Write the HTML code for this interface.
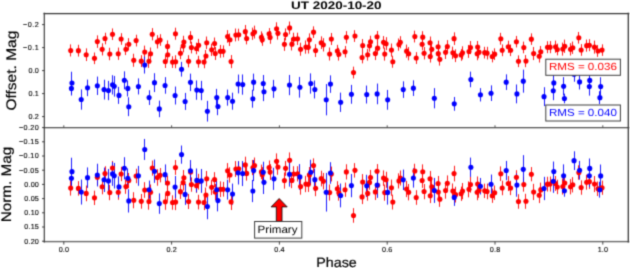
<!DOCTYPE html><html><head><meta charset="utf-8"><style>html,body{margin:0;padding:0;background:#fff;width:630px;height:268px;overflow:hidden}svg{display:block}</style></head><body>
<svg width="630" height="268" viewBox="0 0 630 268" font-family="Liberation Sans, sans-serif" text-rendering="geometricPrecision">
<defs><clipPath id="ct"><rect x="44.4" y="13.6" width="584.0" height="114.0"/></clipPath><clipPath id="cb"><rect x="44.4" y="127.6" width="584.0" height="114.0"/></clipPath><filter id="soft" x="0" y="0" width="630" height="268" filterUnits="userSpaceOnUse" color-interpolation-filters="sRGB"><feConvolveMatrix order="3" kernelMatrix="1 4 1 4 16 4 1 4 1" divisor="36" edgeMode="duplicate"/></filter></defs>
<g filter="url(#soft)">
<rect width="630" height="268" fill="#fff"/>
<g clip-path="url(#ct)"><path d="M70.50 44.39V56.48M78.50 44.77V56.55M86.50 48.37V61.06M94.50 52.50V64.14M97.50 35.36V47.85M102.50 43.27V55.44M105.50 32.74V44.35M109.50 47.78V60.21M112.50 28.43V40.00M118.50 47.57V59.87M121.50 33.18V44.81M125.50 43.39V55.05M128.50 38.17V50.45M133.50 53.74V66.77M136.50 34.73V46.46M141.50 55.18V67.09M144.50 45.62V58.27M148.50 54.65V67.89M150.50 47.49V60.05M152.50 28.10V40.33M157.50 35.18V48.48M160.50 34.19V45.78M165.50 54.93V68.01M167.50 40.36V52.40M167.50 48.83V60.60M172.50 56.24V67.96M175.50 27.69V39.76M175.50 55.24V68.24M180.50 47.36V59.19M183.50 39.74V52.31M183.50 35.77V48.44M188.50 55.18V67.36M190.50 31.15V43.65M191.50 41.74V53.36M196.50 42.65V54.26M198.50 55.80V67.68M198.50 38.86V51.62M204.50 55.96V68.25M205.50 50.00V62.08M206.50 36.53V49.11M211.50 43.66V55.99M214.50 37.52V49.57M215.50 47.05V60.01M220.50 44.95V57.73M223.50 45.36V57.31M227.50 30.15V42.70M229.50 33.53V45.99M231.50 55.05V68.16M235.50 28.52V41.36M238.50 28.70V40.73M245.50 24.98V38.28M246.50 32.66V44.38M252.50 27.63V39.90M254.50 25.65V38.55M261.50 31.39V43.17M262.50 33.44V45.84M269.50 28.05V39.62M270.50 31.05V43.78M276.50 22.31V35.22M277.50 27.09V39.64M284.50 37.75V50.87M285.50 28.40V40.48M289.50 21.52V34.30M291.50 37.88V50.47M293.50 32.71V45.28M297.50 32.69V45.03M300.50 42.70V55.74M305.50 40.46V53.70M308.50 41.16V53.54M309.50 33.35V46.07M313.50 26.34V37.95M315.50 44.18V56.97M321.50 36.34V49.03M323.50 38.14V51.47M329.50 47.49V60.50M331.50 32.98V45.00M337.50 44.83V57.04M338.50 47.85V60.58M345.50 45.95V57.49M346.50 31.11V43.46M353.50 66.65V78.46M354.50 30.18V41.90M362.50 51.75V63.36M362.50 39.07V51.98M367.50 48.84V60.58M369.50 39.82V51.78M370.50 35.72V47.94M375.50 46.95V60.05M377.50 30.96V42.61M377.50 41.99V54.32M383.50 36.07V48.58M384.50 47.52V60.64M386.50 37.17V50.18M391.50 43.53V56.62M392.50 55.74V67.75M398.50 38.45V50.71M400.50 36.16V48.32M406.50 44.59V57.72M408.50 47.09V60.35M414.50 30.67V42.45M416.50 52.14V63.96M422.50 38.35V50.27M422.50 31.18V43.11M424.50 47.03V59.42M430.50 36.53V49.11M430.50 50.57V62.55M431.50 43.60V55.11M438.50 40.61V52.88M438.50 47.54V59.72M439.50 53.08V65.62M445.50 45.74V59.00M447.50 40.13V52.90M452.50 46.64V59.09M454.50 32.34V44.97M455.50 49.33V62.08M461.50 49.19V60.79M462.50 46.29V59.44M468.50 44.96V57.89M470.50 41.00V54.11M477.50 47.29V60.25M477.50 40.99V53.21M478.50 46.05V58.29M484.50 46.80V58.49M487.50 46.80V59.47M492.50 50.75V62.37M494.50 48.32V59.94M500.50 32.83V44.71M502.50 44.40V56.20M508.50 40.68V52.80M510.50 44.50V56.10M516.50 35.95V47.45M518.50 55.36V67.14M523.50 41.62V53.30M525.50 55.03V67.20M531.50 33.37V44.92M533.50 46.98V60.09M539.50 49.92V62.55M540.50 45.98V57.75M547.50 41.23V53.20M550.50 41.06V53.20M555.50 40.59V52.76M557.50 43.61V55.34M562.50 42.58V55.64M564.50 39.61V52.93M570.50 43.16V55.51M572.50 41.56V53.95M578.50 31.96V43.62M581.50 44.12V55.81M586.50 39.57V51.70M589.50 39.20V51.18M594.50 40.62V53.64M597.50 45.07V56.86M602.50 44.34V55.88" stroke="#ff0000" stroke-width="0.9" fill="none"/><path d="M71.50 81.28V95.54M71.50 71.73V94.27M81.50 89.44V109.68M87.50 79.59V96.15M97.50 76.59V94.99M104.50 79.73V99.51M108.50 80.87V100.19M112.50 75.19V94.51M114.50 75.94V96.64M118.50 86.88V103.90M124.50 71.33V89.27M127.50 80.36V96.46M128.50 97.27V116.13M138.50 78.38V94.48M144.50 56.54V73.56M149.50 90.26V104.98M154.50 73.21V92.07M159.50 100.62V117.18M165.50 77.15V93.71M175.50 86.56V104.50M181.50 61.86V76.58M185.50 92.92V109.94M190.50 73.63V91.11M196.50 80.46V99.78M201.50 80.87V100.19M207.50 100.85V121.55M216.50 88.88V106.36M217.50 97.71V115.19M227.50 89.57V105.67M232.50 92.69V109.71M238.50 74.56V93.42M242.50 74.46V94.70M252.50 89.75V107.69M253.50 73.64V90.66M263.50 74.99V92.01M263.50 82.27V101.13M273.50 79.89V97.83M289.50 74.95V95.19M299.50 76.93V97.63M310.50 73.38V93.62M314.50 80.52V98.46M326.50 84.05V115.33M330.50 75.37V92.85M340.50 92.62V111.94M351.50 84.88V103.74M366.50 85.56V103.50M377.50 83.55V104.25M387.50 89.94V109.72M403.50 81.34V97.90M413.50 80.32V95.96M434.50 88.11V108.35M454.50 96.96V110.76M470.50 71.62V87.26M480.50 88.14V101.48M491.50 85.36V101.00M506.50 74.33V89.97M516.50 84.47V103.33M523.50 69.66V92.66M544.50 87.21V106.07M553.50 81.34V100.20M553.50 74.83V90.93M563.50 77.11V95.51M564.50 93.65V103.31M574.50 66.54V81.72M579.50 74.29V89.47M589.50 77.24V95.64M589.50 72.35V88.45M599.50 91.19V104.07M600.50 77.24V95.64" stroke="#0000ff" stroke-width="0.9" fill="none"/><g fill="#ff0000"><circle cx="70.70" cy="50.44" r="2.55"/><circle cx="78.42" cy="50.66" r="2.55"/><circle cx="86.20" cy="54.71" r="2.55"/><circle cx="94.48" cy="58.32" r="2.55"/><circle cx="97.33" cy="41.61" r="2.55"/><circle cx="102.15" cy="49.36" r="2.55"/><circle cx="105.00" cy="38.54" r="2.55"/><circle cx="109.81" cy="53.99" r="2.55"/><circle cx="112.50" cy="34.22" r="2.55"/><circle cx="118.26" cy="53.72" r="2.55"/><circle cx="121.12" cy="38.99" r="2.55"/><circle cx="125.93" cy="49.22" r="2.55"/><circle cx="128.79" cy="44.31" r="2.55"/><circle cx="133.77" cy="60.26" r="2.55"/><circle cx="136.12" cy="40.59" r="2.55"/><circle cx="141.27" cy="61.13" r="2.55"/><circle cx="144.75" cy="51.95" r="2.55"/><circle cx="148.95" cy="61.27" r="2.55"/><circle cx="150.57" cy="53.77" r="2.55"/><circle cx="152.25" cy="34.22" r="2.55"/><circle cx="157.40" cy="41.83" r="2.55"/><circle cx="160.08" cy="39.98" r="2.55"/><circle cx="165.29" cy="61.47" r="2.55"/><circle cx="167.53" cy="46.38" r="2.55"/><circle cx="167.75" cy="54.71" r="2.55"/><circle cx="172.56" cy="62.10" r="2.55"/><circle cx="175.47" cy="33.72" r="2.55"/><circle cx="175.64" cy="61.74" r="2.55"/><circle cx="180.45" cy="53.27" r="2.55"/><circle cx="183.12" cy="46.02" r="2.55"/><circle cx="183.91" cy="42.10" r="2.55"/><circle cx="188.61" cy="61.27" r="2.55"/><circle cx="190.58" cy="37.40" r="2.55"/><circle cx="191.41" cy="47.55" r="2.55"/><circle cx="196.56" cy="48.45" r="2.55"/><circle cx="198.51" cy="61.74" r="2.55"/><circle cx="198.64" cy="45.24" r="2.55"/><circle cx="204.05" cy="62.10" r="2.55"/><circle cx="205.96" cy="56.04" r="2.55"/><circle cx="206.74" cy="42.82" r="2.55"/><circle cx="211.72" cy="49.83" r="2.55"/><circle cx="214.58" cy="43.54" r="2.55"/><circle cx="215.22" cy="53.53" r="2.55"/><circle cx="220.28" cy="51.34" r="2.55"/><circle cx="223.08" cy="51.34" r="2.55"/><circle cx="227.62" cy="36.43" r="2.55"/><circle cx="229.97" cy="39.76" r="2.55"/><circle cx="231.09" cy="61.61" r="2.55"/><circle cx="235.90" cy="34.94" r="2.55"/><circle cx="238.75" cy="34.71" r="2.55"/><circle cx="245.31" cy="31.63" r="2.55"/><circle cx="246.66" cy="38.52" r="2.55"/><circle cx="252.98" cy="33.76" r="2.55"/><circle cx="254.55" cy="32.10" r="2.55"/><circle cx="261.43" cy="37.28" r="2.55"/><circle cx="262.26" cy="39.64" r="2.55"/><circle cx="269.10" cy="33.83" r="2.55"/><circle cx="270.05" cy="37.42" r="2.55"/><circle cx="276.60" cy="28.76" r="2.55"/><circle cx="277.94" cy="33.36" r="2.55"/><circle cx="284.43" cy="44.31" r="2.55"/><circle cx="285.61" cy="34.44" r="2.55"/><circle cx="289.64" cy="27.91" r="2.55"/><circle cx="291.93" cy="44.17" r="2.55"/><circle cx="293.83" cy="38.99" r="2.55"/><circle cx="297.53" cy="38.86" r="2.55"/><circle cx="300.61" cy="49.22" r="2.55"/><circle cx="305.92" cy="47.08" r="2.55"/><circle cx="308.27" cy="47.35" r="2.55"/><circle cx="309.39" cy="39.71" r="2.55"/><circle cx="313.55" cy="32.15" r="2.55"/><circle cx="315.62" cy="50.57" r="2.55"/><circle cx="321.22" cy="42.69" r="2.55"/><circle cx="323.34" cy="44.81" r="2.55"/><circle cx="329.67" cy="53.99" r="2.55"/><circle cx="331.35" cy="38.99" r="2.55"/><circle cx="337.35" cy="50.93" r="2.55"/><circle cx="338.86" cy="54.22" r="2.55"/><circle cx="345.02" cy="51.72" r="2.55"/><circle cx="346.36" cy="37.28" r="2.55"/><circle cx="353.52" cy="72.56" r="2.55"/><circle cx="354.98" cy="36.04" r="2.55"/><circle cx="362.08" cy="57.55" r="2.55"/><circle cx="362.70" cy="45.53" r="2.55"/><circle cx="367.68" cy="54.71" r="2.55"/><circle cx="369.53" cy="45.80" r="2.55"/><circle cx="370.54" cy="41.83" r="2.55"/><circle cx="375.35" cy="53.50" r="2.55"/><circle cx="377.03" cy="36.79" r="2.55"/><circle cx="377.65" cy="48.15" r="2.55"/><circle cx="383.57" cy="42.33" r="2.55"/><circle cx="384.75" cy="54.08" r="2.55"/><circle cx="386.09" cy="43.68" r="2.55"/><circle cx="391.47" cy="50.08" r="2.55"/><circle cx="392.81" cy="61.74" r="2.55"/><circle cx="398.97" cy="44.58" r="2.55"/><circle cx="400.31" cy="42.24" r="2.55"/><circle cx="406.63" cy="51.16" r="2.55"/><circle cx="408.70" cy="53.72" r="2.55"/><circle cx="414.86" cy="36.56" r="2.55"/><circle cx="416.20" cy="58.05" r="2.55"/><circle cx="422.13" cy="44.31" r="2.55"/><circle cx="422.75" cy="37.15" r="2.55"/><circle cx="424.09" cy="53.23" r="2.55"/><circle cx="430.03" cy="42.82" r="2.55"/><circle cx="430.25" cy="56.56" r="2.55"/><circle cx="431.77" cy="49.36" r="2.55"/><circle cx="438.10" cy="46.74" r="2.55"/><circle cx="438.27" cy="53.63" r="2.55"/><circle cx="439.83" cy="59.35" r="2.55"/><circle cx="445.60" cy="52.37" r="2.55"/><circle cx="447.33" cy="46.52" r="2.55"/><circle cx="452.88" cy="52.87" r="2.55"/><circle cx="454.06" cy="38.66" r="2.55"/><circle cx="455.57" cy="55.71" r="2.55"/><circle cx="461.11" cy="54.99" r="2.55"/><circle cx="462.51" cy="52.87" r="2.55"/><circle cx="469.00" cy="51.43" r="2.55"/><circle cx="470.51" cy="47.56" r="2.55"/><circle cx="477.17" cy="53.77" r="2.55"/><circle cx="477.67" cy="47.10" r="2.55"/><circle cx="478.96" cy="52.17" r="2.55"/><circle cx="484.72" cy="52.64" r="2.55"/><circle cx="487.07" cy="53.14" r="2.55"/><circle cx="492.22" cy="56.56" r="2.55"/><circle cx="494.69" cy="54.13" r="2.55"/><circle cx="500.84" cy="38.77" r="2.55"/><circle cx="502.18" cy="50.30" r="2.55"/><circle cx="508.28" cy="46.74" r="2.55"/><circle cx="510.64" cy="50.30" r="2.55"/><circle cx="516.40" cy="41.70" r="2.55"/><circle cx="518.47" cy="61.25" r="2.55"/><circle cx="523.84" cy="47.46" r="2.55"/><circle cx="525.97" cy="61.11" r="2.55"/><circle cx="531.37" cy="39.14" r="2.55"/><circle cx="533.66" cy="53.53" r="2.55"/><circle cx="539.21" cy="56.24" r="2.55"/><circle cx="540.78" cy="51.87" r="2.55"/><circle cx="547.51" cy="47.21" r="2.55"/><circle cx="550.03" cy="47.13" r="2.55"/><circle cx="555.58" cy="46.68" r="2.55"/><circle cx="557.26" cy="49.47" r="2.55"/><circle cx="562.86" cy="49.11" r="2.55"/><circle cx="564.77" cy="46.27" r="2.55"/><circle cx="570.54" cy="49.34" r="2.55"/><circle cx="572.84" cy="47.76" r="2.55"/><circle cx="578.83" cy="37.79" r="2.55"/><circle cx="581.13" cy="49.97" r="2.55"/><circle cx="586.68" cy="45.64" r="2.55"/><circle cx="589.37" cy="45.19" r="2.55"/><circle cx="594.52" cy="47.13" r="2.55"/><circle cx="598.00" cy="50.96" r="2.55"/><circle cx="602.03" cy="50.11" r="2.55"/></g><g fill="#0000ff"><circle cx="71.42" cy="88.41" r="2.55"/><circle cx="71.98" cy="83.00" r="2.55"/><circle cx="81.22" cy="99.56" r="2.55"/><circle cx="87.54" cy="87.87" r="2.55"/><circle cx="97.33" cy="85.79" r="2.55"/><circle cx="104.05" cy="89.62" r="2.55"/><circle cx="108.47" cy="90.53" r="2.55"/><circle cx="112.50" cy="84.85" r="2.55"/><circle cx="114.24" cy="86.29" r="2.55"/><circle cx="118.99" cy="95.39" r="2.55"/><circle cx="124.36" cy="80.30" r="2.55"/><circle cx="127.83" cy="88.41" r="2.55"/><circle cx="128.79" cy="106.70" r="2.55"/><circle cx="138.41" cy="86.43" r="2.55"/><circle cx="144.75" cy="65.05" r="2.55"/><circle cx="149.11" cy="97.62" r="2.55"/><circle cx="154.49" cy="82.64" r="2.55"/><circle cx="159.30" cy="108.90" r="2.55"/><circle cx="165.06" cy="85.43" r="2.55"/><circle cx="175.08" cy="95.53" r="2.55"/><circle cx="181.57" cy="69.22" r="2.55"/><circle cx="185.12" cy="101.43" r="2.55"/><circle cx="190.49" cy="82.37" r="2.55"/><circle cx="196.81" cy="90.12" r="2.55"/><circle cx="201.23" cy="90.53" r="2.55"/><circle cx="207.39" cy="111.20" r="2.55"/><circle cx="216.79" cy="97.62" r="2.55"/><circle cx="217.97" cy="106.45" r="2.55"/><circle cx="227.70" cy="97.62" r="2.55"/><circle cx="232.52" cy="101.20" r="2.55"/><circle cx="238.11" cy="83.99" r="2.55"/><circle cx="242.72" cy="84.58" r="2.55"/><circle cx="252.90" cy="98.72" r="2.55"/><circle cx="253.63" cy="82.15" r="2.55"/><circle cx="263.25" cy="83.50" r="2.55"/><circle cx="263.98" cy="91.70" r="2.55"/><circle cx="274.00" cy="88.86" r="2.55"/><circle cx="289.50" cy="85.07" r="2.55"/><circle cx="299.91" cy="87.28" r="2.55"/><circle cx="310.82" cy="83.50" r="2.55"/><circle cx="314.85" cy="89.49" r="2.55"/><circle cx="326.23" cy="99.69" r="2.55"/><circle cx="330.48" cy="84.11" r="2.55"/><circle cx="340.68" cy="102.28" r="2.55"/><circle cx="351.43" cy="94.31" r="2.55"/><circle cx="366.76" cy="94.53" r="2.55"/><circle cx="377.12" cy="93.90" r="2.55"/><circle cx="387.69" cy="99.83" r="2.55"/><circle cx="403.25" cy="89.62" r="2.55"/><circle cx="413.38" cy="88.14" r="2.55"/><circle cx="434.32" cy="98.23" r="2.55"/><circle cx="454.25" cy="103.86" r="2.55"/><circle cx="470.88" cy="79.44" r="2.55"/><circle cx="480.45" cy="94.81" r="2.55"/><circle cx="491.03" cy="93.18" r="2.55"/><circle cx="506.20" cy="82.15" r="2.55"/><circle cx="516.94" cy="93.90" r="2.55"/><circle cx="523.27" cy="81.16" r="2.55"/><circle cx="544.02" cy="96.64" r="2.55"/><circle cx="553.26" cy="90.77" r="2.55"/><circle cx="553.82" cy="82.88" r="2.55"/><circle cx="563.63" cy="86.31" r="2.55"/><circle cx="564.41" cy="98.48" r="2.55"/><circle cx="574.03" cy="74.13" r="2.55"/><circle cx="579.60" cy="81.88" r="2.55"/><circle cx="589.35" cy="86.44" r="2.55"/><circle cx="589.75" cy="80.40" r="2.55"/><circle cx="599.90" cy="97.63" r="2.55"/><circle cx="600.69" cy="86.44" r="2.55"/></g></g>
<g clip-path="url(#cb)"><path d="M70.50 180.65V195.59M78.50 181.13V195.67M86.50 185.56V201.24M94.50 190.67V205.04M97.50 169.51V184.93M102.50 179.27V194.30M105.50 166.27V180.60M109.50 184.84V200.19M112.50 160.95V175.24M118.50 184.59V199.77M121.50 166.81V181.17M125.50 179.42V193.82M128.50 172.97V188.14M133.50 192.21V208.29M136.50 168.73V183.21M141.50 193.98V208.69M144.50 182.17V197.80M148.50 193.32V209.68M150.50 184.48V199.99M152.50 160.55V175.65M157.50 169.29V185.71M160.50 168.06V182.37M165.50 193.67V209.82M167.50 175.69V190.54M167.50 186.14V200.67M172.50 195.29V209.76M175.50 160.03V174.93M175.50 194.06V210.11M180.50 184.32V198.93M183.50 174.91V190.43M183.50 170.01V185.66M188.50 193.98V209.02M190.50 164.30V179.75M191.50 177.39V191.73M196.50 178.50V192.84M198.50 194.75V209.42M198.50 173.83V189.58M204.50 194.94V210.11M205.50 187.59V202.50M206.50 170.96V186.49M211.50 179.76V194.98M214.50 172.17V187.05M215.50 183.94V199.94M220.50 181.34V197.13M223.50 181.86V196.61M227.50 163.07V178.57M229.50 167.24V182.64M231.50 193.82V210.01M235.50 161.06V176.91M238.50 161.28V176.14M245.50 156.68V173.11M246.50 166.17V180.64M252.50 159.96V175.11M254.50 157.52V173.44M261.50 164.61V179.15M262.50 167.13V182.45M269.50 160.48V174.77M270.50 164.19V179.90M276.50 153.39V169.33M277.50 159.29V174.79M284.50 172.46V188.65M285.50 160.92V175.83M289.50 152.41V168.19M291.50 172.61V188.16M293.50 166.23V181.75M297.50 166.21V181.44M300.50 178.57V194.67M305.50 175.80V192.15M308.50 176.67V191.95M309.50 167.03V182.73M313.50 158.37V172.71M315.50 180.39V196.19M321.50 170.72V186.39M323.50 172.94V189.40M329.50 184.48V200.55M331.50 166.57V181.41M337.50 181.19V196.27M338.50 184.93V200.65M345.50 182.58V196.83M346.50 164.25V179.50M353.50 208.14V222.73M354.50 163.11V177.58M362.50 189.74V204.08M362.50 174.09V190.03M367.50 186.16V200.65M369.50 175.01V189.77M370.50 169.95V185.04M375.50 183.81V199.99M377.50 164.07V178.46M377.50 177.69V192.91M383.50 170.38V185.83M384.50 184.52V200.73M386.50 171.75V187.81M391.50 179.59V195.76M392.50 194.67V209.50M398.50 173.32V188.46M400.50 170.49V185.51M406.50 180.90V197.11M408.50 183.99V200.37M414.50 163.72V178.26M416.50 190.22V204.82M422.50 173.19V187.92M422.50 164.35V179.08M424.50 183.92V199.22M430.50 170.95V186.49M430.50 188.29V203.08M431.50 179.68V193.89M438.50 175.98V191.13M438.50 184.55V199.59M439.50 191.39V206.87M445.50 182.33V198.69M447.50 175.40V191.17M452.50 183.44V198.81M454.50 165.77V181.38M455.50 186.76V202.50M461.50 186.58V200.90M462.50 183.00V199.24M468.50 181.36V197.33M470.50 176.47V192.66M477.50 184.23V200.24M477.50 176.46V191.55M478.50 182.71V197.82M484.50 183.63V198.06M487.50 183.64V199.28M492.50 188.51V202.85M494.50 185.51V199.86M500.50 166.38V181.05M502.50 180.67V195.24M508.50 176.07V191.05M510.50 180.79V195.11M516.50 170.23V184.43M518.50 194.20V208.74M523.50 177.23V191.66M525.50 193.79V208.82M531.50 167.05V181.30M533.50 183.85V200.04M539.50 187.49V203.08M540.50 182.62V197.16M547.50 176.76V191.53M550.50 176.54V191.53M555.50 175.97V190.99M557.50 179.69V194.17M562.50 178.42V194.55M564.50 174.75V191.20M570.50 179.13V194.39M572.50 177.17V192.46M578.50 165.31V179.70M581.50 180.33V194.76M586.50 174.71V189.69M589.50 174.24V189.04M594.50 176.00V192.08M597.50 181.49V196.06M602.50 180.59V194.84" stroke="#ff0000" stroke-width="0.9" fill="none"/><path d="M71.50 169.50V187.11M71.50 157.71V185.54M81.50 179.57V204.56M87.50 167.41V187.86M97.50 163.72V186.44M104.50 167.59V192.02M108.50 168.99V192.85M112.50 161.98V185.84M114.50 162.91V188.47M118.50 176.42V197.43M124.50 157.22V179.37M127.50 168.36V188.24M128.50 189.24V212.53M138.50 165.91V185.79M144.50 138.95V159.96M149.50 180.59V198.77M154.50 159.54V182.83M159.50 193.39V213.83M165.50 164.41V184.85M175.50 176.02V198.17M181.50 145.52V163.69M185.50 183.87V204.89M190.50 160.06V181.64M196.50 168.49V192.34M201.50 168.99V192.85M207.50 193.66V219.22M216.50 178.89V200.47M217.50 189.79V211.37M227.50 179.74V199.62M232.50 183.59V204.61M238.50 161.21V184.50M242.50 161.08V186.07M252.50 179.97V202.12M253.50 160.06V181.08M263.50 161.73V182.75M263.50 170.72V194.01M273.50 167.78V189.93M289.50 161.69V186.68M299.50 164.13V189.69M310.50 159.75V184.74M314.50 168.56V190.71M326.50 172.92V211.55M330.50 162.20V183.78M340.50 183.51V207.36M351.50 173.95V197.23M366.50 174.79V196.94M377.50 172.31V197.87M387.50 180.19V204.62M403.50 169.58V190.03M413.50 168.31V187.62M434.50 177.93V202.92M454.50 188.86V205.90M470.50 157.58V176.89M480.50 177.97V194.44M491.50 174.54V193.85M506.50 160.92V180.23M516.50 173.44V196.73M523.50 155.15V183.55M544.50 176.82V200.11M553.50 169.58V192.87M553.50 161.53V181.41M563.50 164.35V187.07M564.50 184.78V196.71M574.50 151.30V170.04M579.50 160.88V179.62M589.50 164.51V187.23M589.50 158.47V178.35M599.50 181.74V197.64M600.50 164.52V187.24" stroke="#0000ff" stroke-width="0.9" fill="none"/><g fill="#ff0000"><circle cx="70.70" cy="188.12" r="2.55"/><circle cx="78.42" cy="188.40" r="2.55"/><circle cx="86.20" cy="193.40" r="2.55"/><circle cx="94.48" cy="197.86" r="2.55"/><circle cx="97.33" cy="177.22" r="2.55"/><circle cx="102.15" cy="186.79" r="2.55"/><circle cx="105.00" cy="173.44" r="2.55"/><circle cx="109.81" cy="192.51" r="2.55"/><circle cx="112.50" cy="168.10" r="2.55"/><circle cx="118.26" cy="192.18" r="2.55"/><circle cx="121.12" cy="173.99" r="2.55"/><circle cx="125.93" cy="186.62" r="2.55"/><circle cx="128.79" cy="180.56" r="2.55"/><circle cx="133.77" cy="200.25" r="2.55"/><circle cx="136.12" cy="175.97" r="2.55"/><circle cx="141.27" cy="201.33" r="2.55"/><circle cx="144.75" cy="189.99" r="2.55"/><circle cx="148.95" cy="201.50" r="2.55"/><circle cx="150.57" cy="192.24" r="2.55"/><circle cx="152.25" cy="168.10" r="2.55"/><circle cx="157.40" cy="177.50" r="2.55"/><circle cx="160.08" cy="175.22" r="2.55"/><circle cx="165.29" cy="201.75" r="2.55"/><circle cx="167.53" cy="183.11" r="2.55"/><circle cx="167.75" cy="193.40" r="2.55"/><circle cx="172.56" cy="202.53" r="2.55"/><circle cx="175.47" cy="167.48" r="2.55"/><circle cx="175.64" cy="202.08" r="2.55"/><circle cx="180.45" cy="191.63" r="2.55"/><circle cx="183.12" cy="182.67" r="2.55"/><circle cx="183.91" cy="177.83" r="2.55"/><circle cx="188.61" cy="201.50" r="2.55"/><circle cx="190.58" cy="172.02" r="2.55"/><circle cx="191.41" cy="184.56" r="2.55"/><circle cx="196.56" cy="185.67" r="2.55"/><circle cx="198.51" cy="202.08" r="2.55"/><circle cx="198.64" cy="181.71" r="2.55"/><circle cx="204.05" cy="202.53" r="2.55"/><circle cx="205.96" cy="195.04" r="2.55"/><circle cx="206.74" cy="178.72" r="2.55"/><circle cx="211.72" cy="187.37" r="2.55"/><circle cx="214.58" cy="179.61" r="2.55"/><circle cx="215.22" cy="191.94" r="2.55"/><circle cx="220.28" cy="189.24" r="2.55"/><circle cx="223.08" cy="189.24" r="2.55"/><circle cx="227.62" cy="170.82" r="2.55"/><circle cx="229.97" cy="174.94" r="2.55"/><circle cx="231.09" cy="201.91" r="2.55"/><circle cx="235.90" cy="168.98" r="2.55"/><circle cx="238.75" cy="168.71" r="2.55"/><circle cx="245.31" cy="164.90" r="2.55"/><circle cx="246.66" cy="173.41" r="2.55"/><circle cx="252.98" cy="167.53" r="2.55"/><circle cx="254.55" cy="165.48" r="2.55"/><circle cx="261.43" cy="171.88" r="2.55"/><circle cx="262.26" cy="174.79" r="2.55"/><circle cx="269.10" cy="167.62" r="2.55"/><circle cx="270.05" cy="172.05" r="2.55"/><circle cx="276.60" cy="161.36" r="2.55"/><circle cx="277.94" cy="167.04" r="2.55"/><circle cx="284.43" cy="180.56" r="2.55"/><circle cx="285.61" cy="168.37" r="2.55"/><circle cx="289.64" cy="160.30" r="2.55"/><circle cx="291.93" cy="180.39" r="2.55"/><circle cx="293.83" cy="173.99" r="2.55"/><circle cx="297.53" cy="173.82" r="2.55"/><circle cx="300.61" cy="186.62" r="2.55"/><circle cx="305.92" cy="183.97" r="2.55"/><circle cx="308.27" cy="184.31" r="2.55"/><circle cx="309.39" cy="174.88" r="2.55"/><circle cx="313.55" cy="165.54" r="2.55"/><circle cx="315.62" cy="188.29" r="2.55"/><circle cx="321.22" cy="178.55" r="2.55"/><circle cx="323.34" cy="181.17" r="2.55"/><circle cx="329.67" cy="192.51" r="2.55"/><circle cx="331.35" cy="173.99" r="2.55"/><circle cx="337.35" cy="188.73" r="2.55"/><circle cx="338.86" cy="192.79" r="2.55"/><circle cx="345.02" cy="189.71" r="2.55"/><circle cx="346.36" cy="171.88" r="2.55"/><circle cx="353.52" cy="215.43" r="2.55"/><circle cx="354.98" cy="170.35" r="2.55"/><circle cx="362.08" cy="196.91" r="2.55"/><circle cx="362.70" cy="182.06" r="2.55"/><circle cx="367.68" cy="193.40" r="2.55"/><circle cx="369.53" cy="182.39" r="2.55"/><circle cx="370.54" cy="177.50" r="2.55"/><circle cx="375.35" cy="191.90" r="2.55"/><circle cx="377.03" cy="171.27" r="2.55"/><circle cx="377.65" cy="185.30" r="2.55"/><circle cx="383.57" cy="178.11" r="2.55"/><circle cx="384.75" cy="192.62" r="2.55"/><circle cx="386.09" cy="179.78" r="2.55"/><circle cx="391.47" cy="187.68" r="2.55"/><circle cx="392.81" cy="202.08" r="2.55"/><circle cx="398.97" cy="180.89" r="2.55"/><circle cx="400.31" cy="178.00" r="2.55"/><circle cx="406.63" cy="189.01" r="2.55"/><circle cx="408.70" cy="192.18" r="2.55"/><circle cx="414.86" cy="170.99" r="2.55"/><circle cx="416.20" cy="197.52" r="2.55"/><circle cx="422.13" cy="180.56" r="2.55"/><circle cx="422.75" cy="171.71" r="2.55"/><circle cx="424.09" cy="191.57" r="2.55"/><circle cx="430.03" cy="178.72" r="2.55"/><circle cx="430.25" cy="195.68" r="2.55"/><circle cx="431.77" cy="186.79" r="2.55"/><circle cx="438.10" cy="183.56" r="2.55"/><circle cx="438.27" cy="192.07" r="2.55"/><circle cx="439.83" cy="199.13" r="2.55"/><circle cx="445.60" cy="190.51" r="2.55"/><circle cx="447.33" cy="183.28" r="2.55"/><circle cx="452.88" cy="191.12" r="2.55"/><circle cx="454.06" cy="173.58" r="2.55"/><circle cx="455.57" cy="194.63" r="2.55"/><circle cx="461.11" cy="193.74" r="2.55"/><circle cx="462.51" cy="191.12" r="2.55"/><circle cx="469.00" cy="189.34" r="2.55"/><circle cx="470.51" cy="184.57" r="2.55"/><circle cx="477.17" cy="192.24" r="2.55"/><circle cx="477.67" cy="184.00" r="2.55"/><circle cx="478.96" cy="190.26" r="2.55"/><circle cx="484.72" cy="190.85" r="2.55"/><circle cx="487.07" cy="191.46" r="2.55"/><circle cx="492.22" cy="195.68" r="2.55"/><circle cx="494.69" cy="192.68" r="2.55"/><circle cx="500.84" cy="173.71" r="2.55"/><circle cx="502.18" cy="187.95" r="2.55"/><circle cx="508.28" cy="183.56" r="2.55"/><circle cx="510.64" cy="187.95" r="2.55"/><circle cx="516.40" cy="177.33" r="2.55"/><circle cx="518.47" cy="201.47" r="2.55"/><circle cx="523.84" cy="184.45" r="2.55"/><circle cx="525.97" cy="201.30" r="2.55"/><circle cx="531.37" cy="174.18" r="2.55"/><circle cx="533.66" cy="191.94" r="2.55"/><circle cx="539.21" cy="195.29" r="2.55"/><circle cx="540.78" cy="189.89" r="2.55"/><circle cx="547.51" cy="184.14" r="2.55"/><circle cx="550.03" cy="184.03" r="2.55"/><circle cx="555.58" cy="183.48" r="2.55"/><circle cx="557.26" cy="186.93" r="2.55"/><circle cx="562.86" cy="186.49" r="2.55"/><circle cx="564.77" cy="182.98" r="2.55"/><circle cx="570.54" cy="186.76" r="2.55"/><circle cx="572.84" cy="184.82" r="2.55"/><circle cx="578.83" cy="172.50" r="2.55"/><circle cx="581.13" cy="187.54" r="2.55"/><circle cx="586.68" cy="182.20" r="2.55"/><circle cx="589.37" cy="181.64" r="2.55"/><circle cx="594.52" cy="184.04" r="2.55"/><circle cx="598.00" cy="188.77" r="2.55"/><circle cx="602.03" cy="187.72" r="2.55"/></g><g fill="#0000ff"><circle cx="71.42" cy="178.30" r="2.55"/><circle cx="71.98" cy="171.63" r="2.55"/><circle cx="81.22" cy="192.07" r="2.55"/><circle cx="87.54" cy="177.64" r="2.55"/><circle cx="97.33" cy="175.08" r="2.55"/><circle cx="104.05" cy="179.80" r="2.55"/><circle cx="108.47" cy="180.92" r="2.55"/><circle cx="112.50" cy="173.91" r="2.55"/><circle cx="114.24" cy="175.69" r="2.55"/><circle cx="118.99" cy="186.92" r="2.55"/><circle cx="124.36" cy="168.29" r="2.55"/><circle cx="127.83" cy="178.30" r="2.55"/><circle cx="128.79" cy="200.89" r="2.55"/><circle cx="138.41" cy="175.85" r="2.55"/><circle cx="144.75" cy="149.46" r="2.55"/><circle cx="149.11" cy="189.68" r="2.55"/><circle cx="154.49" cy="171.18" r="2.55"/><circle cx="159.30" cy="203.61" r="2.55"/><circle cx="165.06" cy="174.63" r="2.55"/><circle cx="175.08" cy="187.09" r="2.55"/><circle cx="181.57" cy="154.60" r="2.55"/><circle cx="185.12" cy="194.38" r="2.55"/><circle cx="190.49" cy="170.85" r="2.55"/><circle cx="196.81" cy="180.42" r="2.55"/><circle cx="201.23" cy="180.92" r="2.55"/><circle cx="207.39" cy="206.44" r="2.55"/><circle cx="216.79" cy="189.68" r="2.55"/><circle cx="217.97" cy="200.58" r="2.55"/><circle cx="227.70" cy="189.68" r="2.55"/><circle cx="232.52" cy="194.10" r="2.55"/><circle cx="238.11" cy="172.85" r="2.55"/><circle cx="242.72" cy="173.57" r="2.55"/><circle cx="252.90" cy="191.04" r="2.55"/><circle cx="253.63" cy="170.57" r="2.55"/><circle cx="263.25" cy="172.24" r="2.55"/><circle cx="263.98" cy="182.36" r="2.55"/><circle cx="274.00" cy="178.86" r="2.55"/><circle cx="289.50" cy="174.19" r="2.55"/><circle cx="299.91" cy="176.91" r="2.55"/><circle cx="310.82" cy="172.24" r="2.55"/><circle cx="314.85" cy="179.64" r="2.55"/><circle cx="326.23" cy="192.24" r="2.55"/><circle cx="330.48" cy="172.99" r="2.55"/><circle cx="340.68" cy="195.44" r="2.55"/><circle cx="351.43" cy="185.59" r="2.55"/><circle cx="366.76" cy="185.87" r="2.55"/><circle cx="377.12" cy="185.09" r="2.55"/><circle cx="387.69" cy="192.40" r="2.55"/><circle cx="403.25" cy="179.80" r="2.55"/><circle cx="413.38" cy="177.97" r="2.55"/><circle cx="434.32" cy="190.43" r="2.55"/><circle cx="454.25" cy="197.38" r="2.55"/><circle cx="470.88" cy="167.23" r="2.55"/><circle cx="480.45" cy="186.20" r="2.55"/><circle cx="491.03" cy="184.20" r="2.55"/><circle cx="506.20" cy="170.57" r="2.55"/><circle cx="516.94" cy="185.09" r="2.55"/><circle cx="523.27" cy="169.35" r="2.55"/><circle cx="544.02" cy="188.46" r="2.55"/><circle cx="553.26" cy="181.22" r="2.55"/><circle cx="553.82" cy="171.47" r="2.55"/><circle cx="563.63" cy="175.71" r="2.55"/><circle cx="564.41" cy="190.75" r="2.55"/><circle cx="574.03" cy="160.67" r="2.55"/><circle cx="579.60" cy="170.25" r="2.55"/><circle cx="589.35" cy="175.87" r="2.55"/><circle cx="589.75" cy="168.41" r="2.55"/><circle cx="599.90" cy="189.69" r="2.55"/><circle cx="600.69" cy="175.88" r="2.55"/></g></g>
<rect x="43.5" y="12.95" width="585.80" height="1.3" fill="#3a3a3a"/>
<rect x="43.5" y="127.10" width="585.80" height="1.2" fill="#4a4a4a"/>
<rect x="43.5" y="240.90" width="585.80" height="1.4" fill="#6a6a6a"/>
<rect x="43.70" y="12.7" width="1.2" height="229.80" fill="#404040"/>
<rect x="627.65" y="12.7" width="1.3" height="229.80" fill="#3a3a3a"/>
<text x="38.80" y="27.00" font-size="7.2" text-anchor="end" textLength="15.78" lengthAdjust="spacing" fill="#000" stroke="#000" stroke-width="0.12">−0.2</text>
<text x="38.80" y="50.00" font-size="7.2" text-anchor="end" textLength="15.78" lengthAdjust="spacing" fill="#000" stroke="#000" stroke-width="0.12">−0.1</text>
<text x="38.80" y="73.00" font-size="7.2" text-anchor="end" textLength="10.34" lengthAdjust="spacing" fill="#000" stroke="#000" stroke-width="0.12">0.0</text>
<text x="38.80" y="96.00" font-size="7.2" text-anchor="end" textLength="10.34" lengthAdjust="spacing" fill="#000" stroke="#000" stroke-width="0.12">0.1</text>
<text x="38.80" y="119.00" font-size="7.2" text-anchor="end" textLength="10.34" lengthAdjust="spacing" fill="#000" stroke="#000" stroke-width="0.12">0.2</text>
<text x="38.80" y="130.00" font-size="7.2" text-anchor="end" textLength="19.92" lengthAdjust="spacing" fill="#000" stroke="#000" stroke-width="0.12">−0.20</text>
<text x="38.80" y="144.20" font-size="7.2" text-anchor="end" textLength="19.92" lengthAdjust="spacing" fill="#000" stroke="#000" stroke-width="0.12">−0.15</text>
<text x="38.80" y="158.40" font-size="7.2" text-anchor="end" textLength="19.92" lengthAdjust="spacing" fill="#000" stroke="#000" stroke-width="0.12">−0.10</text>
<text x="38.80" y="172.60" font-size="7.2" text-anchor="end" textLength="19.92" lengthAdjust="spacing" fill="#000" stroke="#000" stroke-width="0.12">−0.05</text>
<text x="38.80" y="186.80" font-size="7.2" text-anchor="end" textLength="14.47" lengthAdjust="spacing" fill="#000" stroke="#000" stroke-width="0.12">0.00</text>
<text x="38.80" y="201.00" font-size="7.2" text-anchor="end" textLength="14.47" lengthAdjust="spacing" fill="#000" stroke="#000" stroke-width="0.12">0.05</text>
<text x="38.80" y="215.20" font-size="7.2" text-anchor="end" textLength="14.47" lengthAdjust="spacing" fill="#000" stroke="#000" stroke-width="0.12">0.10</text>
<text x="38.80" y="229.40" font-size="7.2" text-anchor="end" textLength="14.47" lengthAdjust="spacing" fill="#000" stroke="#000" stroke-width="0.12">0.15</text>
<text x="38.80" y="243.60" font-size="7.2" text-anchor="end" textLength="14.47" lengthAdjust="spacing" fill="#000" stroke="#000" stroke-width="0.12">0.20</text>
<text x="63.80" y="251.6" font-size="7.2" text-anchor="middle" textLength="10.34" lengthAdjust="spacing" fill="#000" stroke="#000" stroke-width="0.12">0.0</text>
<text x="171.60" y="251.6" font-size="7.2" text-anchor="middle" textLength="10.34" lengthAdjust="spacing" fill="#000" stroke="#000" stroke-width="0.12">0.2</text>
<text x="279.40" y="251.6" font-size="7.2" text-anchor="middle" textLength="10.34" lengthAdjust="spacing" fill="#000" stroke="#000" stroke-width="0.12">0.4</text>
<text x="387.20" y="251.6" font-size="7.2" text-anchor="middle" textLength="10.34" lengthAdjust="spacing" fill="#000" stroke="#000" stroke-width="0.12">0.6</text>
<text x="495.00" y="251.6" font-size="7.2" text-anchor="middle" textLength="10.34" lengthAdjust="spacing" fill="#000" stroke="#000" stroke-width="0.12">0.8</text>
<text x="602.80" y="251.6" font-size="7.2" text-anchor="middle" textLength="10.34" lengthAdjust="spacing" fill="#000" stroke="#000" stroke-width="0.12">1.0</text>
<g stroke="#333" stroke-width="0.9"><line x1="42.0" y1="24.60" x2="44.4" y2="24.60"/><line x1="42.0" y1="47.60" x2="44.4" y2="47.60"/><line x1="42.0" y1="70.60" x2="44.4" y2="70.60"/><line x1="42.0" y1="93.60" x2="44.4" y2="93.60"/><line x1="42.0" y1="116.60" x2="44.4" y2="116.60"/><line x1="42.0" y1="127.60" x2="44.4" y2="127.60"/><line x1="42.0" y1="141.80" x2="44.4" y2="141.80"/><line x1="42.0" y1="156.00" x2="44.4" y2="156.00"/><line x1="42.0" y1="170.20" x2="44.4" y2="170.20"/><line x1="42.0" y1="184.40" x2="44.4" y2="184.40"/><line x1="42.0" y1="198.60" x2="44.4" y2="198.60"/><line x1="42.0" y1="212.80" x2="44.4" y2="212.80"/><line x1="42.0" y1="227.00" x2="44.4" y2="227.00"/><line x1="42.0" y1="241.20" x2="44.4" y2="241.20"/><line x1="63.80" y1="241.6" x2="63.80" y2="244.6"/><line x1="63.80" y1="125.3" x2="63.80" y2="127.6" stroke="#444"/><line x1="171.60" y1="241.6" x2="171.60" y2="244.6"/><line x1="171.60" y1="125.3" x2="171.60" y2="127.6" stroke="#444"/><line x1="279.40" y1="241.6" x2="279.40" y2="244.6"/><line x1="279.40" y1="125.3" x2="279.40" y2="127.6" stroke="#444"/><line x1="387.20" y1="241.6" x2="387.20" y2="244.6"/><line x1="387.20" y1="125.3" x2="387.20" y2="127.6" stroke="#444"/><line x1="495.00" y1="241.6" x2="495.00" y2="244.6"/><line x1="495.00" y1="125.3" x2="495.00" y2="127.6" stroke="#444"/><line x1="602.80" y1="241.6" x2="602.80" y2="244.6"/><line x1="602.80" y1="125.3" x2="602.80" y2="127.6" stroke="#444"/></g>
<text x="336.3" y="8.6" font-size="11" font-weight="bold" text-anchor="middle" textLength="90.6" lengthAdjust="spacingAndGlyphs">UT 2020-10-20</text>
<text x="336.5" y="266.9" font-size="13.5" text-anchor="middle" textLength="40.6" lengthAdjust="spacingAndGlyphs" stroke="#000" stroke-width="0.2">Phase</text>
<text transform="translate(15.6 70.6) rotate(-90)" x="0" y="0" font-size="13.9" text-anchor="middle" textLength="80" lengthAdjust="spacingAndGlyphs" stroke="#000" stroke-width="0.2">Offset. Mag</text>
<text transform="translate(11 184.60) rotate(-90)" x="0" y="0" font-size="13.9" text-anchor="middle" textLength="75.5" lengthAdjust="spacingAndGlyphs" stroke="#000" stroke-width="0.2">Norm. Mag</text>
<rect x="545.8" y="59.2" width="74.60" height="16.10" fill="#fff" stroke="#3c3c3c" stroke-width="1.0"/><text x="548.9" y="69.9" font-size="10.3" textLength="68.0" lengthAdjust="spacingAndGlyphs" fill="#ff0000">RMS = 0.036</text>
<rect x="545.8" y="105" width="74.60" height="16.00" fill="#fff" stroke="#3c3c3c" stroke-width="1.0"/><text x="548.9" y="115.6" font-size="10.3" textLength="68.0" lengthAdjust="spacingAndGlyphs" fill="#0000ff">RMS = 0.040</text>
<polygon points="279.15,198.5 287.2,206.9 282.0,206.9 282.0,221.4 276.3,221.4 276.3,206.9 271.1,206.9" fill="#ff0000" stroke="#000" stroke-width="0.8" stroke-linejoin="miter"/>
<rect x="254.6" y="221.5" width="47.20" height="16.60" fill="#fff" stroke="#3c3c3c" stroke-width="1.0"/><text x="257.6" y="232.8" font-size="10.6" textLength="39.9" lengthAdjust="spacingAndGlyphs" fill="#000">Primary</text>
</g></svg></body></html>
